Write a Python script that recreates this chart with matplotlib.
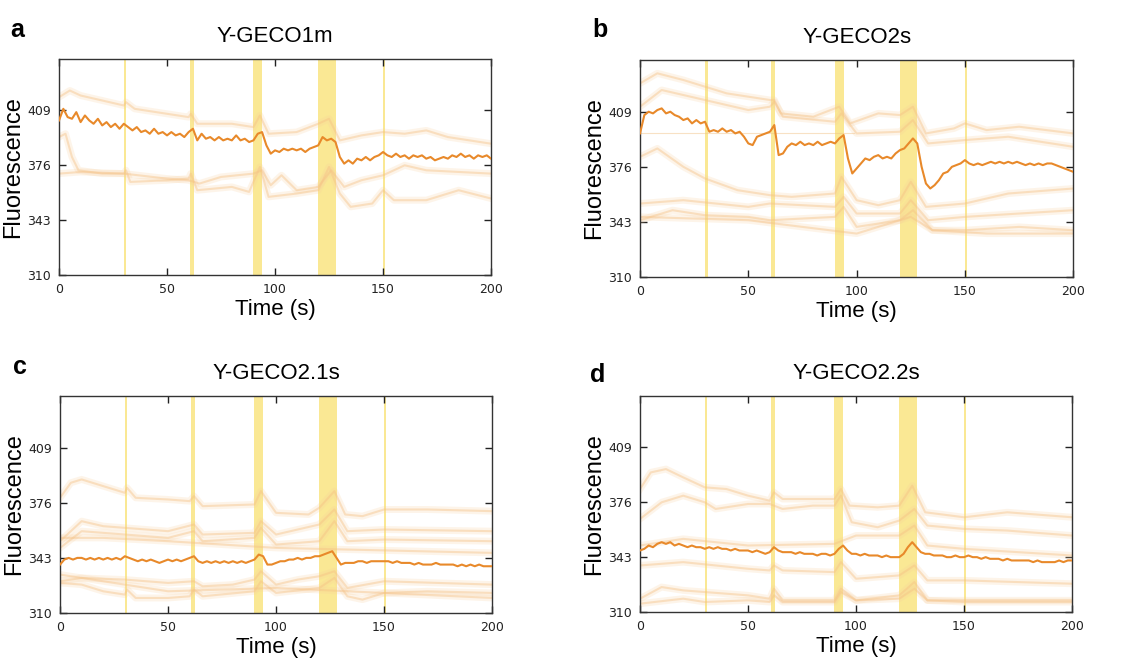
import numpy as np
import matplotlib
matplotlib.use('agg')
import matplotlib.pyplot as plt

# stimulation windows (s)
stim_start = [30, 60.5, 90, 120, 150]
stim_end = [31.2, 62.5, 94, 128, 150.8]

yticks = [310, 343, 376, 409]
xticks = [0, 50, 100, 150, 200]

# main (mean) traces, sampled every 2 s from 0 to 200 s
a_main_v = [403, 410, 405, 404, 408, 402, 406, 403, 401, 404, 400, 402, 399, 401, 398, 401, 399, 397, 399, 396,
            397, 395, 398, 395, 396, 394, 396, 394, 395, 393, 396, 398, 391, 395, 392, 393, 391, 393, 391, 392,
            391, 394, 391, 392, 390, 391, 395, 396, 388, 383, 385, 384, 386, 385, 386, 385, 386, 384, 386, 387,
            388, 393, 391, 392, 390, 381, 377, 379, 377, 380, 379, 381, 379, 381, 382, 384, 382, 381, 383, 381,
            382, 380, 382, 381, 382, 380, 381, 379, 380, 381, 380, 382, 381, 383, 381, 382, 380, 382, 381, 382, 380]
b_main_v = [396, 407, 409, 408, 410, 411, 408, 409, 407, 406, 404, 405, 402, 404, 402, 403, 397, 398, 397, 399,
            397, 398, 396, 397, 394, 390, 389, 394, 395, 396, 397, 401, 383, 384, 388, 390, 389, 391, 389, 390,
            389, 391, 389, 390, 391, 390, 393, 395, 381, 372, 375, 378, 381, 380, 382, 383, 381, 382, 381, 384,
            386, 387, 390, 393, 390, 376, 366, 363, 365, 368, 372, 373, 376, 377, 378, 380, 378, 377, 378, 377,
            378, 379, 378, 379, 378, 379, 378, 379, 378, 377, 378, 377, 378, 377, 378, 378, 377, 376, 375, 374, 373]
c_main_v = [339, 342, 343, 342, 343, 343, 342, 343, 342, 343, 342, 343, 342, 343, 342, 344, 343, 342, 341, 342,
            341, 342, 341, 340, 341, 342, 341, 342, 341, 342, 343, 344, 341, 340, 341, 340, 341, 340, 341, 340,
            341, 340, 341, 340, 341, 342, 345, 344, 339, 339, 340, 341, 341, 342, 342, 343, 342, 343, 343, 344,
            344, 345, 346, 347, 343, 339, 340, 340, 340, 341, 341, 340, 341, 341, 341, 341, 341, 340, 341, 340,
            340, 340, 339, 340, 339, 339, 339, 340, 339, 339, 339, 339, 338, 339, 338, 339, 338, 339, 338, 338, 338]
d_main_v = [347, 348, 350, 349, 351, 352, 351, 352, 350, 351, 350, 349, 350, 349, 349, 348, 349, 348, 349, 348,
            348, 347, 348, 347, 347, 347, 346, 347, 346, 345, 346, 349, 347, 346, 346, 346, 345, 346, 345, 345,
            345, 344, 345, 345, 344, 345, 348, 350, 347, 345, 345, 344, 345, 344, 344, 344, 343, 344, 343, 343,
            343, 345, 349, 352, 349, 346, 345, 345, 344, 344, 344, 343, 343, 344, 343, 343, 344, 343, 343, 342,
            343, 342, 342, 342, 341, 342, 341, 341, 341, 341, 341, 340, 341, 340, 340, 340, 340, 341, 340, 341, 341]

# individual (faint) cell traces
a_faint_t = [
    [0, 5, 10, 20, 30, 31, 35, 50, 60, 61, 64, 80, 90, 93, 97, 110, 120, 125, 130, 140, 150, 160, 170, 180, 200],
    [0, 3, 6, 9, 20, 30, 31, 33, 50, 60, 61, 64, 80, 88, 93, 97, 110, 120, 125, 130, 135, 145, 150, 155, 170, 185, 200],
    [0, 10, 30, 50, 60, 65, 75, 90, 94, 98, 103, 110, 120, 126, 132, 140, 150, 160, 170, 200],
]
a_faint_v = [
    [417, 421, 418, 415, 412, 414, 410, 407, 405, 407, 401, 401, 399, 406, 395, 396, 401, 404, 391, 394, 396, 395, 397, 393, 389],
    [393, 395, 381, 373, 371, 371, 373, 366, 367, 368, 371, 361, 363, 360, 375, 357, 359, 361, 375, 359, 351, 353, 361, 355, 355, 361, 356],
    [371, 372, 371, 368, 367, 365, 369, 371, 373, 364, 370, 361, 363, 373, 363, 367, 370, 376, 373, 371],
]
b_faint_t = [
    [0, 8, 20, 30, 40, 60, 62, 65, 80, 92, 97, 110, 120, 126, 132, 145, 150, 160, 175, 200],
    [0, 10, 30, 50, 60, 62, 66, 90, 93, 100, 120, 126, 133, 150, 170, 200],
    [0, 99],
    [0, 8, 20, 30, 45, 60, 70, 90, 93, 100, 110, 120, 125, 132, 150, 170, 190, 200],
    [0, 20, 50, 60, 90, 94, 100, 120, 125, 133, 150, 175, 200],
    [0, 15, 30, 50, 60, 90, 94, 100, 120, 126, 135, 150, 175, 200],
    [0, 50, 100, 125, 135, 160, 200],
]
b_faint_v = [
    [426, 432, 428, 424, 420, 416, 416, 408, 406, 412, 402, 408, 407, 412, 396, 399, 402, 398, 400, 396],
    [412, 422, 416, 410, 412, 415, 406, 403, 408, 396, 397, 404, 390, 392, 394, 388],
    [396.5, 396.5],
    [382, 387, 376, 369, 362, 359, 358, 360, 370, 356, 353, 356, 367, 352, 354, 360, 362, 363],
    [354, 356, 352, 354, 352, 358, 348, 348, 356, 344, 346, 348, 350],
    [344, 350, 347, 346, 344, 346, 352, 340, 344, 350, 338, 338, 340, 338],
    [346, 344, 336, 346, 338, 336, 336],
]
c_faint_t = [
    [0, 5, 10, 20, 30, 31, 35, 50, 60, 62, 66, 90, 93, 100, 115, 120, 127, 132, 140, 150, 170, 200],
    [0, 10, 20, 30, 50, 62, 66, 90, 93, 100, 120, 127, 133, 150, 200],
    [0, 10, 30, 50, 62, 66, 90, 93, 100, 120, 127, 133, 150, 200],
    [0, 20, 50, 100, 133, 200],
    [0, 10, 30, 50, 62, 66, 80, 90, 93, 100, 110, 120, 127, 133, 150, 200],
    [0, 10, 20, 30, 31, 35, 50, 60, 62, 66, 90, 93, 100, 120, 127, 133, 140, 150, 170, 200],
    [0, 50, 100, 133, 200],
]
c_faint_v = [
    [379, 388, 390, 386, 382, 385, 379, 378, 377, 380, 374, 375, 383, 370, 369, 373, 383, 369, 368, 372, 372, 371],
    [353, 365, 362, 361, 359, 363, 357, 358, 365, 357, 363, 372, 359, 360, 359],
    [349, 359, 357, 355, 359, 353, 355, 361, 351, 353, 365, 353, 354, 353],
    [355, 355, 353, 349, 348, 346],
    [329, 331, 330, 328, 329, 326, 327, 330, 335, 327, 330, 332, 335, 325, 329, 327],
    [328, 327, 323, 321, 324, 319, 319, 320, 324, 320, 323, 329, 322, 325, 331, 320, 318, 322, 323, 322],
    [333, 323, 325, 323, 319],
]
d_faint_t = [
    [0, 5, 12, 20, 30, 40, 50, 60, 62, 66, 90, 93, 97, 110, 120, 126, 132, 150, 170, 200],
    [0, 10, 20, 30, 35, 50, 60, 66, 80, 90, 93, 98, 110, 120, 127, 133, 150, 170, 200],
    [0, 20, 50, 90, 100, 120, 127, 133, 150, 200],
    [0, 20, 50, 60, 62, 66, 90, 93, 100, 120, 127, 133, 150, 200],
    [0, 10, 20, 30, 50, 60, 62, 66, 90, 93, 100, 120, 127, 133, 150, 200],
    [0, 20, 30, 50, 60, 62, 66, 90, 93, 100, 120, 127, 133, 150, 200],
]
d_faint_v = [
    [384, 394, 396, 391, 385, 384, 380, 377, 382, 378, 378, 384, 374, 373, 374, 386, 370, 367, 370, 367],
    [366, 376, 380, 376, 372, 375, 375, 372, 374, 374, 380, 364, 361, 365, 372, 362, 360, 359, 356],
    [350, 354, 350, 351, 356, 356, 362, 350, 348, 344],
    [338, 340, 336, 335, 338, 335, 334, 340, 330, 332, 338, 329, 329, 327],
    [318, 325, 323, 322, 320, 318, 324, 317, 317, 324, 317, 320, 328, 317, 316, 316],
    [315, 318, 316, 317, 316, 320, 316, 316, 322, 317, 318, 324, 317, 317, 317],
]

panels = [
    ('a', 'Y-GECO1m', a_main_v, a_faint_t, a_faint_v),
    ('b', 'Y-GECO2s', b_main_v, b_faint_t, b_faint_v),
    ('c', 'Y-GECO2.1s', c_main_v, c_faint_t, c_faint_v),
    ('d', 'Y-GECO2.2s', d_main_v, d_faint_t, d_faint_v),
]

# axes boxes in figure fraction [left, bottom, width, height]
boxes = [
    [0.0519, 0.5896, 0.380, 0.3224],
    [0.5629, 0.5866, 0.381, 0.3239],
    [0.0528, 0.0851, 0.380, 0.3239],
    [0.5629, 0.0866, 0.380, 0.3224],
]
letter_pos = [(0.009, 0.955), (0.521, 0.955), (0.011, 0.452), (0.519, 0.440)]

plt.rcParams['font.family'] = ['Liberation Sans', 'DejaVu Sans']
fig = plt.figure(figsize=(11.37, 6.70), dpi=100)

for (letter, title, mv, ft, fv), box, lp in zip(panels, boxes, letter_pos):
    ax = fig.add_axes(box)
    for s, e in zip(stim_start, stim_end):
        ax.axvspan(s, e, color='#f9e37a', alpha=0.8, lw=0, zorder=1)
    for t, v in zip(ft, fv):
        if len(t) == 2:
            ax.plot(t, v, color='#f2c48a', alpha=0.5, lw=0.8, zorder=2)
            continue
        # fuzzy band: wide pale underlay plus a thin core
        ax.plot(t, v, color='#f8cf9c', alpha=0.22, lw=5, zorder=2,
                solid_joinstyle='round')
        ax.plot(t, v, color='#f5c084', alpha=0.42, lw=1.5, zorder=2)
    mt = np.arange(0, 2 * len(mv), 2)
    ax.plot(mt, mv, color='#e8892a', lw=1.5, zorder=3)
    ax.set_xlim(0, 200)
    ax.set_ylim(310, 440)
    ax.set_xticks(xticks)
    ax.set_yticks(yticks)
    ax.tick_params(direction='in', length=5, width=1, top=True, right=True,
                   labelsize=9, pad=6, colors='#222222')
    for lab in ax.get_xticklabels() + ax.get_yticklabels():
        lab.set_family('DejaVu Sans')
    for sp in ax.spines.values():
        sp.set_color('#333333')
        sp.set_linewidth(1.0)
    ax.set_title(title, fontsize=16, pad=12)
    ax.set_xlabel('Time (s)', fontsize=16, labelpad=2)
    ax.set_ylabel('Fluorescence', fontsize=17, labelpad=2)
    fig.text(lp[0], lp[1], letter, fontsize=18, fontweight='bold', va='center')

fig.savefig('out.png', dpi=100)
